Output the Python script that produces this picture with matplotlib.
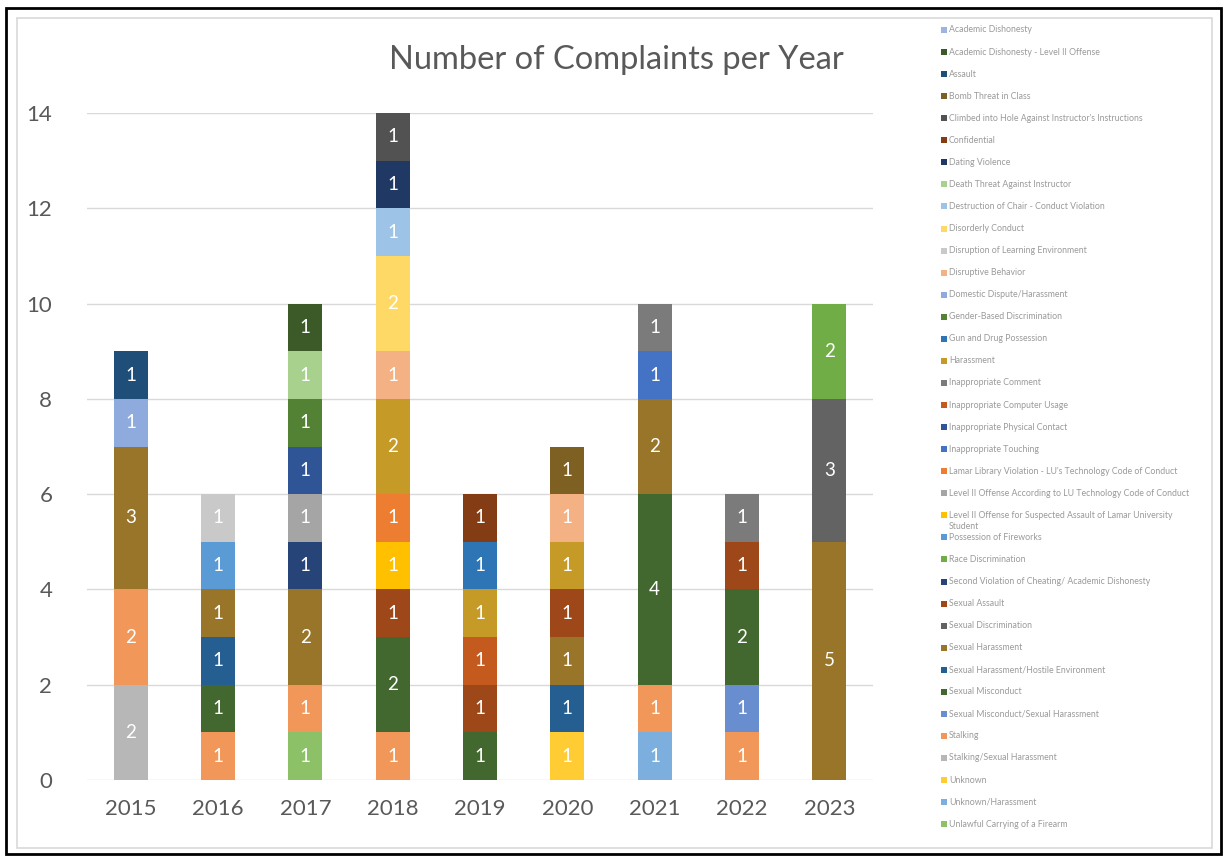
import matplotlib as mpl
mpl.use('Agg')
import matplotlib.pyplot as plt
from matplotlib.patches import Rectangle

plt.rcParams['font.family'] = ['Lato', 'DejaVu Sans']

years = ['2015', '2016', '2017', '2018', '2019', '2020', '2021', '2022', '2023']

categories = [
    'Academic Dishonesty',
    'Academic Dishonesty - Level II Offense',
    'Assault',
    'Bomb Threat in Class',
    "Climbed into Hole Against Instructor's Instructions",
    'Confidential',
    'Dating Violence',
    'Death Threat Against Instructor',
    'Destruction of Chair - Conduct Violation',
    'Disorderly Conduct',
    'Disruption of Learning Environment',
    'Disruptive Behavior',
    'Domestic Dispute/Harassment',
    'Gender-Based Discrimination',
    'Gun and Drug Possession',
    'Harassment',
    'Inappropriate Comment',
    'Inappropriate Computer Usage',
    'Inappropriate Physical Contact',
    'Inappropriate Touching',
    "Lamar Library Violation - LU's Technology Code of Conduct",
    'Level II Offense According to LU Technology Code of Conduct',
    'Level II Offense for Suspected Assault of Lamar University\nStudent',
    'Possession of Fireworks',
    'Race Discrimination',
    'Second Violation of Cheating/ Academic Dishonesty',
    'Sexual Assault',
    'Sexual Discrimination',
    'Sexual Harassment',
    'Sexual Harassment/Hostile Environment',
    'Sexual Misconduct',
    'Sexual Misconduct/Sexual Harassment',
    'Stalking',
    'Stalking/Sexual Harassment',
    'Unknown',
    'Unknown/Harassment',
    'Unlawful Carrying of a Firearm',
]

colors = [
    '#9db3e0', '#3b5a27', '#1f4e79', '#7f6023', '#525252', '#843c14',
    '#203864', '#a9d18e', '#9dc3e6', '#ffd966', '#c9c9c9', '#f4b183',
    '#8faadc', '#548235', '#2e75b6', '#c69a26', '#7b7b7b', '#c55a1e',
    '#2f5597', '#4472c4', '#ed7d31', '#a5a5a5', '#ffc000', '#5b9bd5',
    '#70ad47', '#264478', '#9e481a', '#636363', '#99752a', '#255e91',
    '#43682f', '#698ed0', '#f1975a', '#b7b7b7', '#ffcd33', '#7cafdd',
    '#8cc168',
]

# complaints per category, one column per year (2015 .. 2023)
counts = [
    [0, 0, 0, 0, 0, 0, 0, 0, 0],
    [0, 0, 1, 0, 0, 0, 0, 0, 0],
    [1, 0, 0, 0, 0, 0, 0, 0, 0],
    [0, 0, 0, 0, 0, 1, 0, 0, 0],
    [0, 0, 0, 1, 0, 0, 0, 0, 0],
    [0, 0, 0, 0, 1, 0, 0, 0, 0],
    [0, 0, 0, 1, 0, 0, 0, 0, 0],
    [0, 0, 1, 0, 0, 0, 0, 0, 0],
    [0, 0, 0, 1, 0, 0, 0, 0, 0],
    [0, 0, 0, 2, 0, 0, 0, 0, 0],
    [0, 1, 0, 0, 0, 0, 0, 0, 0],
    [0, 0, 0, 1, 0, 1, 0, 0, 0],
    [1, 0, 0, 0, 0, 0, 0, 0, 0],
    [0, 0, 1, 0, 0, 0, 0, 0, 0],
    [0, 0, 0, 0, 1, 0, 0, 0, 0],
    [0, 0, 0, 2, 1, 1, 0, 0, 0],
    [0, 0, 0, 0, 0, 0, 1, 1, 0],
    [0, 0, 0, 0, 1, 0, 0, 0, 0],
    [0, 0, 1, 0, 0, 0, 0, 0, 0],
    [0, 0, 0, 0, 0, 0, 1, 0, 0],
    [0, 0, 0, 1, 0, 0, 0, 0, 0],
    [0, 0, 1, 0, 0, 0, 0, 0, 0],
    [0, 0, 0, 1, 0, 0, 0, 0, 0],
    [0, 1, 0, 0, 0, 0, 0, 0, 0],
    [0, 0, 0, 0, 0, 0, 0, 0, 2],
    [0, 0, 1, 0, 0, 0, 0, 0, 0],
    [0, 0, 0, 1, 1, 1, 0, 1, 0],
    [0, 0, 0, 0, 0, 0, 0, 0, 3],
    [3, 1, 2, 0, 0, 1, 2, 0, 5],
    [0, 1, 0, 0, 0, 1, 0, 0, 0],
    [0, 1, 0, 2, 1, 0, 4, 2, 0],
    [0, 0, 0, 0, 0, 0, 0, 1, 0],
    [2, 1, 1, 1, 0, 0, 1, 1, 0],
    [2, 0, 0, 0, 0, 0, 0, 0, 0],
    [0, 0, 0, 0, 0, 1, 0, 0, 0],
    [0, 0, 0, 0, 0, 0, 1, 0, 0],
    [0, 0, 1, 0, 0, 0, 0, 0, 0],
]

W, H = 1228, 856
fig = plt.figure(figsize=(W / 100, H / 100), dpi=100)

def fx(px):
    return px / W

def fy(py):
    return 1 - py / H

# frame lines round the whole chart
fig.add_artist(Rectangle((fx(17), fy(848)), fx(1212) - fx(17), fy(18) - fy(848),
                         fill=False, edgecolor='#d9d9d9', lw=1.2, transform=fig.transFigure))
fig.add_artist(Rectangle((fx(6), fy(854)), fx(1221) - fx(6), fy(8) - fy(854),
                         fill=False, edgecolor='black', lw=2, transform=fig.transFigure))

ax = fig.add_axes([fx(87), fy(780), fx(873) - fx(87), fy(113) - fy(780)])
x = list(range(len(years)))

# last category sits at the bottom of each stack
base = [0] * len(years)
for i in reversed(range(len(categories))):
    vals = counts[i]
    if sum(vals) == 0:
        continue
    bars = ax.bar(x, vals, bottom=base, width=0.39, color=colors[i], zorder=3)
    ax.bar_label(bars, labels=[str(v) if v else '' for v in vals], label_type='center',
                 color='white', fontsize=13.5)
    base = [b + v for b, v in zip(base, vals)]

ax.set_xlim(-0.5, len(years) - 0.5)
ax.set_ylim(0, 14)
ax.set_yticks(range(0, 15, 2))
ax.set_xticks(x)
ax.set_xticklabels(years)
ax.grid(axis='y', color='#d9d9d9', lw=1, zorder=0)
for s in ax.spines.values():
    s.set_visible(False)
ax.tick_params(axis='both', length=0, labelsize=16, labelcolor='#595959')
ax.tick_params(axis='y', pad=25)
ax.tick_params(axis='x', pad=14)

fig.text(0.502, fy(60), 'Number of Complaints per Year', ha='center', va='center',
         fontsize=23.5, color='#595959')

# legend column on the right
for i, (name, c) in enumerate(zip(categories, colors)):
    yc = 30 + i * 22.06
    fig.add_artist(Rectangle((fx(941), fy(yc + 3)), fx(6), fy(0) - fy(6),
                             facecolor=c, edgecolor='none', transform=fig.transFigure))
    fig.text(fx(949), fy(yc - 4.5), name, ha='left', va='top', fontsize=6.3,
             color='#9a9a9a', linespacing=1.25)

plt.savefig('out.png', dpi=100)
